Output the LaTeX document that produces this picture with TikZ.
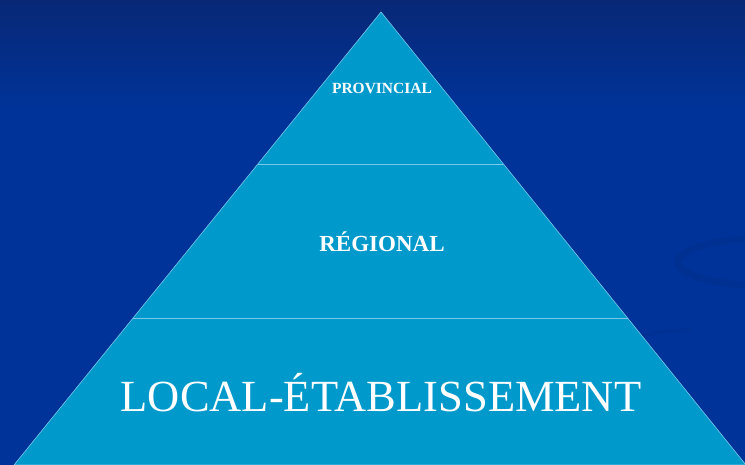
\documentclass[tikz,border=0pt]{standalone}
\usepackage{fontspec}
\setmainfont{Liberation Serif}
\usepackage{tikz}
\usetikzlibrary{calc,positioning}
\definecolor{bgblue}{RGB}{0,51,153}
\definecolor{bgtop}{RGB}{8,40,118}
\definecolor{tierfill}{RGB}{0,153,204}
\definecolor{tierline}{RGB}{120,200,235}
\tikzstyle{tier} = [fill=tierfill, draw=tierline, line width=0.6pt]
\tikzstyle{divider} = [draw=tierline, line width=0.8pt]
\tikzstyle{label} = [text=white, font=\bfseries, inner sep=0pt]

\begin{document}
\begin{tikzpicture}[x=1pt, y=-1pt]

    % background
    \fill[bgblue] (0,0) rectangle (745,465);
    \shade[top color=bgtop, bottom color=bgblue] (0,0) rectangle (745,110);
    \useasboundingbox (0,0) rectangle (745,465);

    % faint swirl
    \begin{scope}
        \clip (0,0) rectangle (745,465);
        \draw[bgblue!80!black, line width=7pt, opacity=0.25] (770,262) ellipse (92 and 24);
        \draw[bgblue!80!black, line width=3pt, opacity=0.2] (690,330) arc (-90:-200:90 and 40);
    \end{scope}

    % pyramid
    \coordinate (apex) at (381,12);
    \coordinate (bl) at (14,465);
    \coordinate (br) at (746,465);

    \begin{scope}
        \clip (0,0) rectangle (745,465);
        \path[tier] (apex) -- (br) -- (bl) -- cycle;
    \end{scope}

    \coordinate (l1) at ($(apex)!0.3355!(bl)$);
    \coordinate (r1) at ($(apex)!0.3355!(br)$);
    \coordinate (l2) at ($(apex)!0.6755!(bl)$);
    \coordinate (r2) at ($(apex)!0.6755!(br)$);

    \draw[divider] (l1) -- (r1);
    \draw[divider] (l2) -- (r2);

    \node[label, font=\bfseries\fontsize{15.5}{18}\selectfont] (prov) at (382,88) {PROVINCIAL};
    \node[label, font=\bfseries\fontsize{23}{26}\selectfont] (reg) at (382,242) {RÉGIONAL};
    \node[label, font=\fontsize{44.5}{50}\selectfont] (local) at (381,393) {LOCAL-ÉTABLISSEMENT};

\end{tikzpicture}
\end{document}
